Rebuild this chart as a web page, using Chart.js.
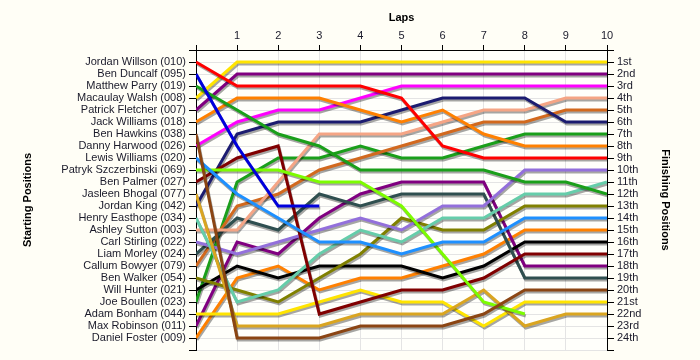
<!DOCTYPE html>
<html>
<head>
<meta charset="utf-8">
<script src="https://cdn.jsdelivr.net/npm/chart.js@4.4.1/dist/chart.umd.min.js"></script>
<style>
  body { margin: 0; background: #fffef6; }
  #wrap { width: 700px; height: 360px; }
</style>
</head>
<body>
<div id="wrap"><canvas id="lapChart" width="700" height="360"></canvas></div>
<script>
// starting grid, in order
const drivers = [
    'Jordan Willson (010)', 'Ben Duncalf (095)', 'Matthew Parry (019)', 'Macaulay Walsh (008)',
    'Patrick Fletcher (007)', 'Jack Williams (018)', 'Ben Hawkins (038)', 'Danny Harwood (026)',
    'Lewis Williams (020)', 'Patryk Szczerbinski (069)', 'Ben Palmer (027)', 'Jasleen Bhogal (077)',
    'Jordan King (042)', 'Henry Easthope (034)', 'Ashley Sutton (003)', 'Carl Stirling (022)',
    'Liam Morley (024)', 'Callum Bowyer (079)', 'Ben Walker (054)', 'Will Hunter (021)',
    'Joe Boullen (023)', 'Adam Bonham (044)', 'Max Robinson (011)', 'Daniel Foster (009)'
];

const laps = [0, 1, 2, 3, 4, 5, 6, 7, 8, 9, 10];

const finishLabels = ['1st', '2nd', '3rd', '4th', '5th', '6th', '7th', '8th', '9th', '10th', '11th', '12th',
    '13th', '14th', '15th', '16th', '17th', '18th', '19th', '20th', '21st', '22nd', '23rd', '24th'];

// position of each driver at the end of each lap (lap 0 = grid)
const jordanWillson      = [1, 3, 3, 3, 3, 4, 8, 9, 9, 9, 9];
const benDuncalf         = [2, 8, 13, 13, null, null, null, null, null, null, null];
const matthewParry       = [3, 5, 7, 8, 10, 10, 10, 10, 11, 11, 12];
const macaulayWalsh      = [4, 1, 1, 1, 1, 1, 1, 1, 1, 1, 1];
const patrickFletcher    = [5, 2, 2, 2, 2, 2, 2, 2, 2, 2, 2];
const jackWilliams       = [6, 4, 4, 4, 5, 6, 5, 7, 8, 8, 8];
const benHawkins         = [7, 24, 24, 24, 23, 23, 23, 22, 20, 20, 20];
const dannyHarwood       = [8, 6, 5, 5, 4, 3, 3, 3, 3, 3, 3];
const lewisWilliams      = [9, 12, 14, 16, 16, 17, 16, 16, 14, 14, 14];
const patrykSzczerbinski = [10, 10, 10, 11, 11, 13, 17, 21, 22, null, null];
const benPalmer          = [11, 9, 8, 22, 21, 20, 20, 19, 17, 17, 17];
const jasleenBhogal      = [12, 23, 23, 23, 22, 22, 22, 20, 23, 22, 22];
const jordanKing         = [13, 7, 6, 6, 6, 5, 4, 4, 4, 6, 6];
const henryEasthope      = [14, 21, 20, 17, 15, 16, 14, 14, 12, 12, 11];
const ashleySutton       = [15, 15, 11, 7, 7, 7, 6, 5, 5, 4, 4];
const carlStirling       = [16, 17, 16, 15, 14, 15, 13, 13, 10, 10, 10];
const liamMorley         = [17, 14, 15, 12, 13, 12, 12, 12, 19, 19, 19];
const callumBowyer       = [18, 13, 12, 10, 9, 8, 7, 6, 6, 5, 5];
const benWalker          = [19, 20, 21, 19, 17, 14, 15, 15, 13, 13, 13];
const willHunter         = [20, 18, 19, 18, 18, 18, 19, 18, 16, 16, 16];
const joeBoullen         = [21, 11, 9, 9, 8, 9, 9, 8, 7, 7, 7];
const adamBonham         = [22, 22, 22, 21, 20, 21, 21, 23, 21, 21, 21];
const maxRobinson        = [23, 16, 17, 14, 12, 11, 11, 11, 18, 18, 18];
const danielFoster       = [24, 19, 18, 20, 19, 19, 18, 17, 15, 15, 15];

const series = [jordanWillson, benDuncalf, matthewParry, macaulayWalsh, patrickFletcher, jackWilliams,
    benHawkins, dannyHarwood, lewisWilliams, patrykSzczerbinski, benPalmer, jasleenBhogal, jordanKing,
    henryEasthope, ashleySutton, carlStirling, liamMorley, callumBowyer, benWalker, willHunter,
    joeBoullen, adamBonham, maxRobinson, danielFoster];

const colours = ['#ff0000', '#0000dd', '#1a9f1a', '#ffe400', '#800080', '#ff8000', '#8b4513', '#ff00ff',
    '#1e90ff', '#7cfc00', '#800000', '#daa520', '#1c1c70', '#66cdaa', '#f5a585', '#9370db',
    '#2f4f4f', '#d2691e', '#808000', '#000000', '#1a9f1a', '#ffe400', '#800080', '#ff8000'];

const fontFamily = "'Liberation Sans', Arial, sans-serif";
const textColour = '#1a1a2a';
const gridColour = '#e4e4e4';

// gray drop shadow under every line
const shadowPlugin = {
    id: 'lineShadow',
    beforeDatasetsDraw(chart) {
        const ctx = chart.ctx;
        ctx.save();
        ctx.shadowColor = 'rgba(0,0,0,0.35)';
        ctx.shadowOffsetX = 1;
        ctx.shadowOffsetY = 2;
        ctx.shadowBlur = 0;
    },
    afterDatasetsDraw(chart) {
        chart.ctx.restore();
    }
};

const canvasBg = {
    id: 'canvasBg',
    beforeDraw(chart) {
        const ctx = chart.ctx;
        ctx.save();
        ctx.fillStyle = '#fffef6';
        ctx.fillRect(0, 0, chart.width, chart.height);
        const a = chart.chartArea;
        ctx.fillStyle = '#fffffb';
        ctx.fillRect(a.left, a.top, a.right - a.left, a.bottom - a.top);
        ctx.restore();
    }
};

const ctx = document.getElementById('lapChart').getContext('2d');

const lapChart = new Chart(ctx, {
    type: 'line',
    data: {
        datasets: drivers.map((name, i) => ({
            label: name,
            data: laps.map((lap, j) => ({ x: lap, y: series[i][j] })),
            borderColor: colours[i],
            backgroundColor: colours[i],
            borderWidth: 3,
            pointRadius: 0,
            tension: 0,
            spanGaps: false,
            yAxisID: 'y'
        }))
    },
    options: {
        responsive: false,
        animation: false,
        layout: { padding: { bottom: 10 } },
        plugins: {
            legend: { display: false },
            tooltip: { enabled: false }
        },
        scales: {
            x: {
                type: 'linear',
                position: 'top',
                min: 0,
                max: 10,
                afterFit: s => { s.height = 50; },
                title: {
                    display: true,
                    text: 'Laps',
                    color: '#000',
                    font: { family: fontFamily, size: 11, weight: 'bold' },
                    padding: { top: 11, bottom: 0 }
                },
                ticks: {
                    stepSize: 1,
                    padding: 2,
                    color: textColour,
                    font: { family: fontFamily, size: 11 },
                    callback: v => (v === 0 ? '' : v)
                },
                grid: { color: gridColour, tickColor: '#000', tickLength: 5 },
                border: { color: '#000', width: 1 }
            },
            y: {
                type: 'linear',
                position: 'left',
                min: 0,
                max: 25,
                reverse: true,
                afterFit: s => { s.width = 196; },
                title: {
                    display: true,
                    text: 'Starting Positions',
                    color: '#000',
                    font: { family: fontFamily, size: 11, weight: 'bold' },
                    padding: { top: 21, bottom: 0 }
                },
                ticks: {
                    stepSize: 1,
                    autoSkip: false,
                    padding: 3,
                    color: textColour,
                    font: { family: fontFamily, size: 11 },
                    callback: v => drivers[v - 1] || ''
                },
                grid: { color: gridColour, tickColor: '#000', tickLength: 7 },
                border: { color: '#000', width: 1 }
            },
            y2: {
                type: 'linear',
                position: 'right',
                min: 0,
                max: 25,
                reverse: true,
                afterFit: s => { s.width = 93; },
                title: {
                    display: true,
                    text: 'Finishing Positions',
                    color: '#000',
                    font: { family: fontFamily, size: 11, weight: 'bold' },
                    padding: { top: 28, bottom: 0 }
                },
                ticks: {
                    stepSize: 1,
                    autoSkip: false,
                    padding: 3,
                    color: textColour,
                    font: { family: fontFamily, size: 11 },
                    callback: v => finishLabels[v - 1] || ''
                },
                grid: { drawOnChartArea: false, tickColor: '#000', tickLength: 7 },
                border: { color: '#000', width: 1 }
            }
        }
    },
    plugins: [canvasBg, shadowPlugin]
});
</script>
</body>
</html>
